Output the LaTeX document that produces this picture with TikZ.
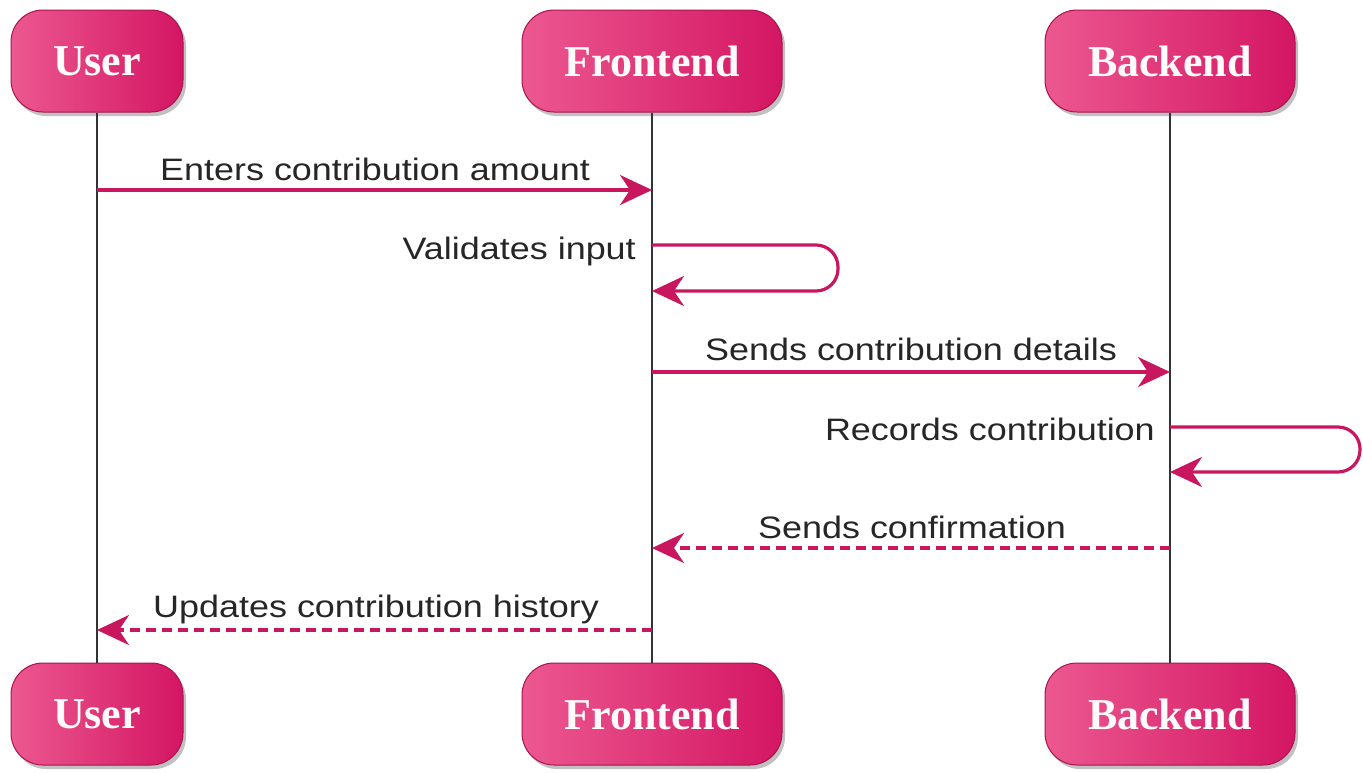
\documentclass[tikz,border=0pt]{standalone}
\usepackage{fontspec}
\setmainfont{Liberation Serif}
\newfontfamily\lblfont[FakeStretch=1.16]{Liberation Sans}
\usetikzlibrary{arrows.meta,shadows}
\definecolor{msgpink}{HTML}{C8175E}
\definecolor{boxlight}{HTML}{EC5890}
\definecolor{boxdark}{HTML}{D41663}
\definecolor{boxedge}{HTML}{A8134F}
\definecolor{lbltext}{HTML}{262626}
\begin{document}
\begin{tikzpicture}[x=1pt,y=-1pt,
  actor/.style={draw=boxedge, line width=1pt, rounded corners=32pt,
    left color=boxlight, right color=boxdark,
    minimum height=102pt, inner sep=0pt,
    font=\fontsize{44}{48}\selectfont\bfseries, text=white!94!pink,
    drop shadow={shadow xshift=3pt, shadow yshift=-4pt, opacity=0.35, fill=black!70}},
  lifeline/.style={draw=black!80, line width=2pt},
  msg/.style={draw=msgpink, line width=3.2pt,
    -{Stealth[length=32pt,width=30pt,inset=10pt,fill=msgpink]}},
  reply/.style={msg, dash pattern=on 10pt off 6pt},
  lbl/.style={font=\fontsize{31}{36}\lblfont, text=lbltext, inner sep=0pt}]
\useasboundingbox (0,0) rectangle (1363,772);

% participants, top and bottom
\node[actor, minimum width=172pt] (userT) at (97,61) {User};
\node[actor, minimum width=260pt] (frontT) at (652,61) {Frontend};
\node[actor, minimum width=250pt] (backT) at (1170,61) {Backend};
\node[actor, minimum width=172pt] (userB) at (97,714) {User};
\node[actor, minimum width=260pt] (frontB) at (652,714) {Frontend};
\node[actor, minimum width=250pt] (backB) at (1170,714) {Backend};

% lifelines
\draw[lifeline] (userT.south) -- (userB.north);
\draw[lifeline] (frontT.south) -- (frontB.north);
\draw[lifeline] (backT.south) -- (backB.north);

% message anchors on the lifelines
\coordinate (u1) at (97,190);   \coordinate (f1) at (652,190);
\coordinate (f2a) at (652,245); \coordinate (f2b) at (652,291);
\coordinate (f3) at (652,372);  \coordinate (b3) at (1170,372);
\coordinate (b4a) at (1170,427); \coordinate (b4b) at (1170,472);
\coordinate (b5) at (1170,548); \coordinate (f5) at (652,548);
\coordinate (f6) at (652,630);  \coordinate (u6) at (97,630);

% messages
\draw[msg] (u1) -- (f1);
\node[lbl, anchor=base] (m1) at (375,180) {Enters contribution amount};

\draw[msg, rounded corners=22pt] (f2a) -- ++(186,0) |- (f2b);
\node[lbl, anchor=base east] (m2) at (636,259) {Validates input};

\draw[msg] (f3) -- (b3);
\node[lbl, anchor=base] (m3) at (911,360) {Sends contribution details};

\draw[msg, rounded corners=22pt] (b4a) -- ++(190,0) |- (b4b);
\node[lbl, anchor=base east] (m4) at (1155,440) {Records contribution};

\draw[reply] (b5) -- (f5);
\node[lbl, anchor=base] (m5) at (912,538) {Sends confirmation};

\draw[reply] (f6) -- (u6);
\node[lbl, anchor=base] (m6) at (376,617) {Updates contribution history};
\end{tikzpicture}
\end{document}
